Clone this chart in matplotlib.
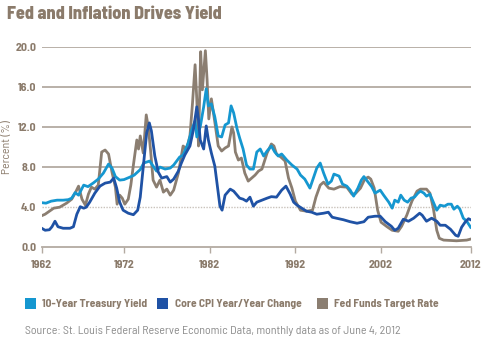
import matplotlib
matplotlib.use("Agg")
import matplotlib.pyplot as plt
from matplotlib.patches import Rectangle

plt.rcParams['font.family'] = ['Barlow Semi Condensed', 'DejaVu Sans']

# 10-year treasury yield
t10_years = [1962.4, 1962.9, 1963.5, 1964.2, 1964.9, 1965.5, 1965.9, 1966.3, 1966.7, 1967.3,
             1967.8, 1968.4, 1969.0, 1969.6, 1970.2, 1970.6, 1971.0, 1971.5, 1972.0, 1972.7,
             1973.2, 1973.9, 1974.3, 1975.0, 1975.4, 1975.8, 1976.2, 1976.8, 1977.4, 1977.8,
             1978.5, 1978.9, 1979.5, 1979.9, 1980.3, 1980.5, 1980.9, 1981.3, 1981.6, 1981.85,
             1982.2, 1982.6, 1983.0, 1983.4, 1983.8, 1984.2, 1984.5, 1984.8, 1985.2, 1985.5,
             1985.9, 1986.3, 1986.7, 1987.1, 1987.5, 1987.9, 1988.3, 1988.7, 1989.2, 1989.6,
             1990.0, 1990.4, 1991.0, 1991.6, 1992.2, 1992.6, 1993.1, 1993.7, 1994.1, 1994.5,
             1994.9, 1995.3, 1995.8, 1996.2, 1996.5, 1997.1, 1997.5, 1998.0, 1998.4, 1998.8,
             1999.3, 1999.7, 2000.0, 2000.4, 2000.9, 2001.3, 2001.9, 2002.3, 2002.9, 2003.3,
             2003.6, 2004.0, 2004.3, 2004.7, 2005.1, 2005.5, 2005.9, 2006.3, 2006.6, 2007.0,
             2007.3, 2007.7, 2008.1, 2008.5, 2008.9, 2009.4, 2009.8, 2010.2, 2010.5, 2010.9,
             2011.2, 2011.6, 2012.0, 2012.45]
t10_vals = [4.45, 4.4, 4.6, 4.7, 4.7, 4.75, 4.9, 5.45, 5.2, 6.2,
            6.05, 6.4, 6.8, 7.4, 8.3, 7.9, 7.05, 6.7, 6.75, 7.0,
            7.2, 7.75, 8.4, 8.6, 8.1, 7.6, 8.0, 7.8, 7.9, 8.2,
            9.0, 9.2, 10.4, 11.7, 12.6, 11.0, 12.0, 14.0, 15.8, 14.1,
            14.3, 13.0, 11.1, 11.0, 12.2, 12.4, 14.1, 13.4, 11.8, 10.9,
            9.8, 8.2, 7.8, 7.8, 9.5, 9.8, 9.1, 9.6, 10.1, 9.5,
            9.1, 9.3, 8.7, 8.2, 7.8, 7.2, 6.8, 5.9, 6.9, 7.9,
            8.4, 7.4, 6.3, 6.6, 7.3, 7.1, 6.3, 6.1, 5.7, 5.1,
            5.9, 6.7, 7.05, 6.6, 6.05, 5.4, 5.7, 5.2, 4.5, 3.9,
            4.7, 4.5, 5.2, 4.7, 4.5, 4.9, 5.0, 5.4, 5.6, 5.4,
            5.1, 5.3, 4.5, 3.7, 4.2, 4.1, 4.3, 4.3, 3.8, 4.1,
            3.8, 2.9, 2.6, 2.0]

# core CPI year/year change
cpi_years = [1962.4, 1962.8, 1963.3, 1963.6, 1963.95, 1964.3, 1964.9, 1965.7, 1966.1, 1966.5,
             1966.9, 1967.3, 1967.6, 1968.0, 1968.6, 1969.2, 1969.8, 1970.4, 1970.8, 1971.15,
             1971.5, 1971.9, 1972.5, 1973.1, 1973.6, 1973.9, 1974.25, 1974.65, 1974.96, 1975.2,
             1975.6, 1976.0, 1976.4, 1977.0, 1977.4, 1977.8, 1978.35, 1978.7, 1979.1, 1979.7,
             1980.1, 1980.5, 1980.7, 1980.9, 1981.3, 1981.6, 1981.85, 1982.2, 1982.6, 1982.9,
             1983.2, 1983.45, 1983.8, 1984.4, 1984.8, 1985.2, 1985.5, 1985.9, 1986.3, 1986.7,
             1987.1, 1987.5, 1988.1, 1988.7, 1989.2, 1989.8, 1990.4, 1990.9, 1991.4, 1991.8,
             1992.2, 1992.75, 1993.3, 1993.9, 1994.5, 1995.3, 1995.85, 1996.3, 1996.8, 1997.6,
             1998.4, 1999.2, 2000.0, 2000.5, 2001.3, 2001.9, 2002.5, 2003.2, 2003.6, 2004.0,
             2004.6, 2005.2, 2005.8, 2006.5, 2006.8, 2007.3, 2007.9, 2008.5, 2008.9, 2009.5,
             2010.1, 2010.7, 2011.0, 2011.4, 2011.8, 2012.2, 2012.45]
cpi_vals = [1.9, 1.7, 1.75, 2.05, 2.6, 2.05, 1.9, 1.9, 2.05, 3.3,
            4.05, 3.9, 4.0, 4.5, 5.4, 6.1, 6.4, 6.5, 6.9, 5.9,
            4.5, 3.7, 3.4, 3.25, 3.7, 5.0, 8.0, 11.4, 12.4, 11.6,
            9.1, 7.5, 6.9, 7.05, 6.5, 6.8, 7.6, 8.4, 9.2, 10.1,
            11.7, 14.0, 12.7, 10.7, 9.8, 12.1, 10.7, 9.4, 8.1, 6.1,
            4.1, 3.7, 5.2, 5.8, 5.6, 5.2, 4.9, 4.8, 4.6, 5.0,
            4.1, 4.5, 4.7, 4.9, 5.05, 5.0, 5.7, 6.1, 5.3, 4.5,
            4.2, 3.9, 3.6, 3.5, 3.3, 3.4, 3.5, 3.0, 2.9, 2.75,
            2.55, 2.4, 2.55, 3.0, 3.1, 3.1, 2.55, 2.1, 1.7, 1.9,
            2.8, 2.6, 2.9, 3.4, 3.2, 2.6, 2.9, 2.6, 2.2, 2.2,
            1.8, 1.2, 1.1, 2.0, 2.5, 2.85, 2.75]

# fed funds target rate
ff_years = [1962.4, 1962.8, 1963.3, 1963.8, 1964.5, 1965.3, 1965.9, 1966.3, 1966.7, 1967.1,
            1967.5, 1967.85, 1968.2, 1968.6, 1969.0, 1969.4, 1969.8, 1970.2, 1970.6, 1971.0,
            1971.2, 1971.5, 1971.8, 1972.1, 1972.5, 1972.8, 1973.1, 1973.5, 1973.7, 1973.9,
            1974.25, 1974.6, 1974.85, 1975.1, 1975.4, 1975.8, 1976.2, 1976.6, 1977.0, 1977.4,
            1977.8, 1978.35, 1978.9, 1979.3, 1979.7, 1980.0, 1980.3, 1980.5, 1980.7, 1980.95,
            1981.15, 1981.5, 1981.7, 1981.9, 1982.2, 1982.6, 1983.0, 1983.4, 1983.8, 1984.2,
            1984.6, 1984.8, 1985.0, 1985.35, 1985.7, 1986.1, 1986.5, 1986.9, 1987.3, 1987.7,
            1988.1, 1988.7, 1989.2, 1989.5, 1989.8, 1990.3, 1990.8, 1991.2, 1991.6, 1992.0,
            1992.6, 1993.3, 1994.0, 1994.4, 1994.9, 1995.3, 1995.9, 1996.5, 1997.2, 1998.0,
            1998.6, 1999.0, 1999.6, 2000.1, 2000.5, 2000.8, 2001.2, 2001.6, 2002.0, 2002.7,
            2003.3, 2004.0, 2004.4, 2005.0, 2005.6, 2006.2, 2006.6, 2007.3, 2007.7, 2008.1,
            2008.5, 2008.8, 2009.3, 2010.8, 2012.0, 2012.45]
ff_vals = [3.15, 3.3, 3.6, 3.9, 4.0, 4.4, 4.8, 5.4, 6.1, 4.8,
           4.2, 5.3, 6.0, 5.8, 6.2, 9.5, 9.7, 9.3, 7.5, 6.0,
           4.3, 5.2, 4.9, 4.3, 4.8, 6.2, 8.2, 10.7, 9.8, 11.1,
           9.4, 13.2, 11.9, 9.7, 6.7, 6.0, 6.7, 5.5, 5.8, 5.2,
           5.7, 7.4, 10.1, 9.8, 11.1, 14.4, 18.2, 14.7, 10.1, 19.5,
           15.7, 19.6, 16.7, 12.8, 14.8, 12.5, 10.1, 9.6, 9.9, 10.1,
           12.0, 11.4, 9.5, 8.7, 8.9, 7.4, 6.6, 6.9, 7.2, 7.6,
           7.8, 9.4, 10.3, 10.1, 9.3, 9.0, 8.6, 6.9, 5.9, 4.6,
           3.7, 3.6, 3.7, 5.0, 6.2, 6.5, 5.9, 5.8, 6.05, 6.0,
           5.3, 5.35, 5.9, 6.8, 7.0, 6.8, 5.9, 3.7, 2.5, 2.05,
           1.7, 1.6, 2.1, 3.2, 4.6, 5.6, 5.8, 5.8, 5.4, 3.9,
           1.7, 0.9, 0.72, 0.65, 0.72, 0.82]

tick_labels = ['1962', '1972', '1982', '1992', '2002', '2012']
tick_pos = [1962.4, 1972, 1982, 1992, 2002, 2012.45]
y_ticks = [0, 4, 8, 12, 16, 20]

c_t10 = '#1597d0'
c_cpi = '#1f52a5'
c_ff = '#8b7e71'
c_text = '#8b7b6b'
c_grid = '#b3aaa1'

fig = plt.figure(figsize=(4.97, 3.51), dpi=100)
ax = fig.add_axes([0.0839, 0.2954, 0.863, 0.5716])

for y in y_ticks[2:]:
    ax.axhline(y, color=c_grid, lw=1.3, zorder=1)
ax.axhline(4, color='#c9c2bb', lw=1.0, ls=(0, (1, 1)), zorder=1)

ax.plot(t10_years, t10_vals, color=c_t10, lw=2.0, zorder=3)
ax.plot(cpi_years, cpi_vals, color=c_cpi, lw=2.0, zorder=4)
ax.plot(ff_years, ff_vals, color=c_ff, lw=2.0, zorder=2)

ax.set_xlim(1962.4, 2012.45)
ax.set_ylim(0, 20)
for s in ['top', 'right', 'left']:
    ax.spines[s].set_visible(False)
ax.spines['bottom'].set_color(c_grid)
ax.spines['bottom'].set_linewidth(1.3)

ax.set_xticks(tick_pos)
ax.set_xticklabels(tick_labels, fontsize=8.5, fontweight='bold', color=c_text)
ax.tick_params(axis='x', direction='out', length=4, width=1, color=c_grid, pad=5)
ax.set_yticks(y_ticks)
ax.set_yticklabels(['%.1f' % v for v in y_ticks], fontsize=8.5, fontweight='bold', color=c_text)
ax.tick_params(axis='y', length=0, pad=4)
ax.set_ylabel('Percent (%)', fontsize=8.5, color=c_text)
ax.yaxis.set_label_coords(-0.069, 0.5)

fig.text(7 / 497, 1 - 14 / 351, 'Fed and Inflation Drives Yield', fontsize=13,
         fontweight=800, color=c_text, va='center', ha='left')

# legend drawn by hand
legend_items = [('10-Year Treasury Yield', c_t10, 25, 42),
                ('Core CPI Year/Year Change', c_cpi, 157, 175),
                ('Fed Funds Target Rate', c_ff, 317, 334)]
for label, col, sx, tx in legend_items:
    fig.add_artist(Rectangle((sx / 497, 1 - 308.5 / 351), 11 / 497, 11 / 351,
                             transform=fig.transFigure, color=col, lw=0))
    fig.text(tx / 497, 1 - 304 / 351, label, fontsize=8.3, fontweight='bold',
             color=c_text, va='center', ha='left')

fig.text(25 / 497, 1 - 331 / 351,
         'Source: St. Louis Federal Reserve Economic Data, monthly data as of June 4, 2012',
         fontsize=8.6, color='#8c8c8c', va='center', ha='left')

fig.savefig('out.png', dpi=100)
